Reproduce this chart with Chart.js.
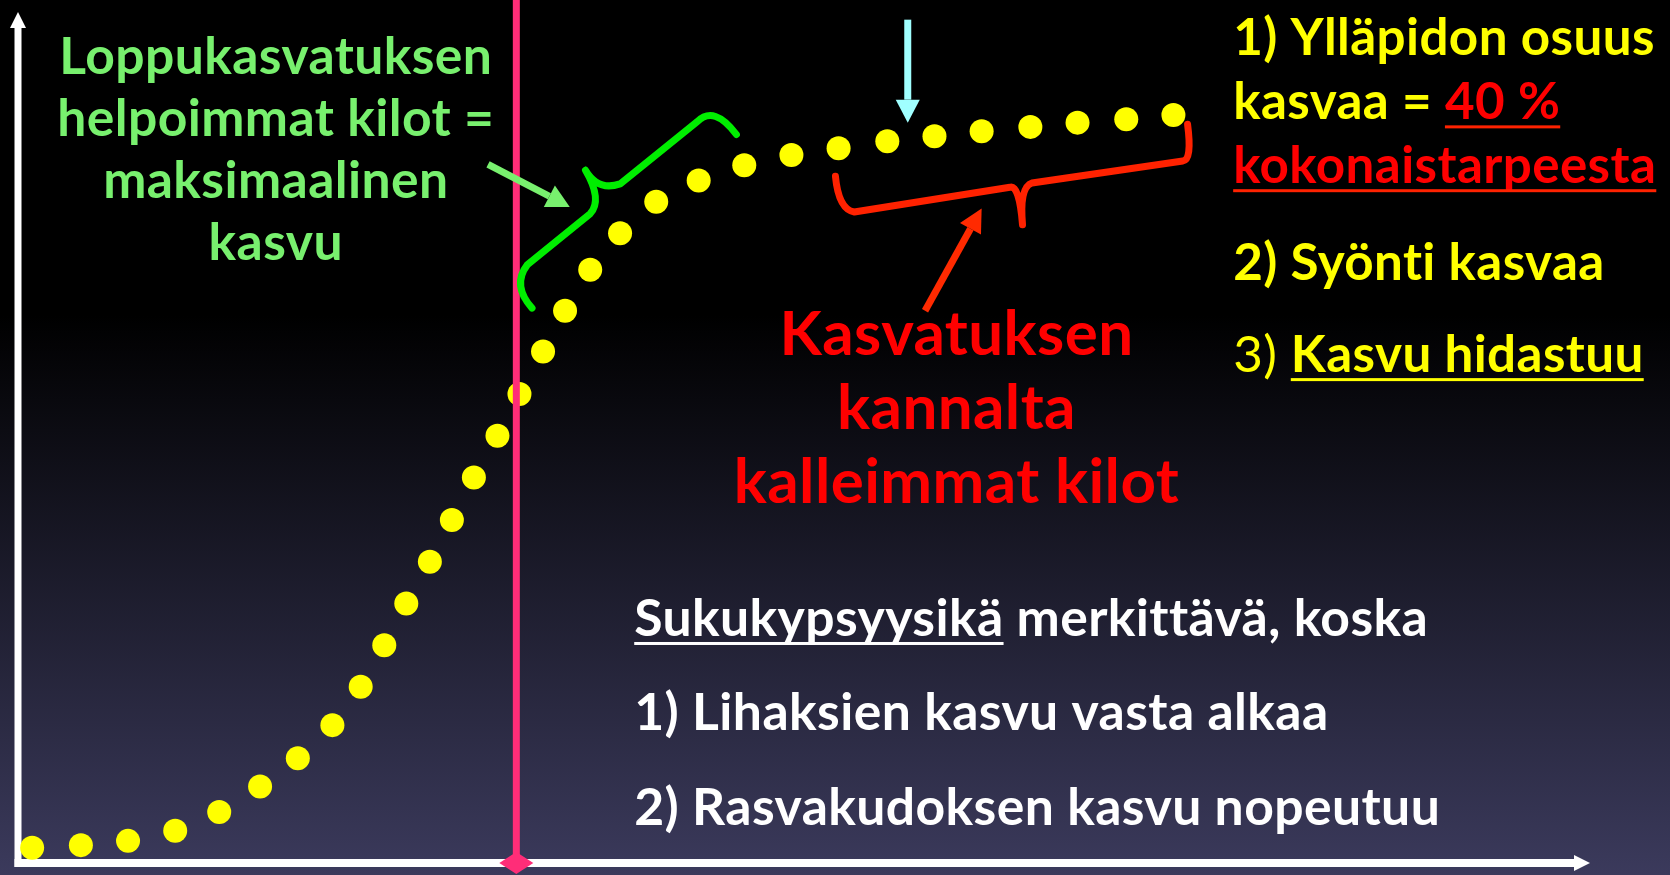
<!DOCTYPE html>
<html>

<head>
    <title>Kasvukäyrä</title>
    <script src="https://cdn.jsdelivr.net/npm/chart.js"></script>
    <style>
        html, body {
            margin: 0;
            padding: 0;
            background: #000;
            overflow: hidden;
        }

        canvas {
            display: block;
        }
    </style>
</head>

<body>
    <canvas id="growthChart" width="1670" height="875"></canvas>

    <script>
        // growth curve: age (x) and live weight (y), both on a 0-100 relative scale
        const ageValues = [0.9, 4.0, 7.0, 10.0, 12.8, 15.4, 17.8, 20.0, 21.8, 23.3, 24.7, 26.2, 27.6, 29.0, 30.5, 31.9,
            33.4, 34.8, 36.4, 38.3, 40.6, 43.3, 46.2, 49.2, 52.2, 55.3, 58.3, 61.3, 64.4, 67.4, 70.5, 73.5];
        const weightValues = [1.8, 2.1, 2.6, 3.8, 6.0, 9.0, 12.3, 16.2, 20.7, 25.6, 30.5, 35.4, 40.3, 45.3, 50.2, 55.1,
            60.1, 64.9, 69.7, 74.0, 77.7, 80.2, 82.0, 83.2, 84.0, 84.8, 85.4, 86.0, 86.5, 87.0, 87.4, 87.9];
        const maturityAge = 31.7;   // sukukypsyysikä (pink line)

        // texts
        const greenLines = ["Loppukasvatuksen", "helpoimmat kilot =", "maksimaalinen", "kasvu"];
        const redLines = ["Kasvatuksen", "kannalta", "kalleimmat kilot"];

        const YELLOW = "#ffff00";
        const RED = "#ff0000";
        const WHITE = "#ffffff";

        const yellowLines = [
            [{ t: "1) Ylläpidon osuus", c: YELLOW }],
            [{ t: "kasvaa = ", c: YELLOW }, { t: "40 %", c: RED, u: "#ff2200" }],
            [{ t: "kokonaistarpeesta", c: RED, u: "#ff2200" }],
            [{ t: "2) Syönti kasvaa", c: YELLOW }],
            [{ t: "3) ", c: YELLOW, w: 400 }, { t: "Kasvu hidastuu", c: YELLOW, u: YELLOW }]
        ];
        const whiteLines = [
            [{ t: "Sukukypsyysikä", c: WHITE, u: WHITE }, { t: " merkittävä, koska", c: WHITE }],
            [{ t: "1) Lihaksien kasvu vasta alkaa", c: WHITE }],
            [{ t: "2) Rasvakudoksen kasvu nopeutuu", c: WHITE }]
        ];

        // braces and arrows, in chart units
        const greenBrace = [["M", 32.7, 65.2], ["Q", 31.4, 67.9, 32.4, 70.3], ["L", 36.4, 76.3], ["Q", 37.2, 77.9, 36.1, 81.4],
            ["M", 36.1, 81.4], ["Q", 36.9, 78.9, 38.3, 79.8], ["L", 43.2, 87.1], ["Q", 44.3, 89.1, 45.7, 85.6]];
        const redBrace = [["M", 52.0, 80.7], ["Q", 52.2, 76.8, 53.2, 76.5], ["L", 63.1, 79.4], ["Q", 63.7, 79.7, 63.9, 75.0],
            ["M", 63.9, 75.0], ["Q", 63.7, 79.4, 64.5, 79.9], ["L", 74.1, 82.5], ["Q", 74.7, 82.6, 74.4, 86.8]];
        const arrows = [
            { from: [56.6, 99.1], to: [56.6, 87.0], color: "#a0ffff" },
            { from: [29.9, 82.1], to: [35.1, 77.1], color: "#78f06e" },
            { from: [57.7, 64.9], to: [61.3, 76.9], color: "#ff2a00" }
        ];

        const FONT = "Lato, 'Open Sans', sans-serif";

        function setFont(ctx, weight, size) {
            ctx.font = `${weight} ${size}px ${FONT}`;
            // a tiny letter spacing keeps Lato from using its "ti" ligature
            if ("letterSpacing" in ctx) ctx.letterSpacing = "0.4px";
        }

        function fitSize(ctx, text, weight, target) {
            setFont(ctx, weight, 100);
            return 100 * target / ctx.measureText(text).width;
        }

        function drawArrow(ctx, x1, y1, x2, y2, color) {
            const ang = Math.atan2(y2 - y1, x2 - x1);
            const head = 23, half = 12;
            const bx = x2 - head * Math.cos(ang), by = y2 - head * Math.sin(ang);
            ctx.strokeStyle = color;
            ctx.fillStyle = color;
            ctx.lineWidth = 7;
            ctx.lineCap = "butt";
            ctx.beginPath();
            ctx.moveTo(x1, y1);
            ctx.lineTo(bx, by);
            ctx.stroke();
            ctx.beginPath();
            ctx.moveTo(x2, y2);
            ctx.lineTo(bx + half * Math.sin(ang), by - half * Math.cos(ang));
            ctx.lineTo(bx - half * Math.sin(ang), by + half * Math.cos(ang));
            ctx.closePath();
            ctx.fill();
        }

        function drawRich(ctx, segs, x, y, size, align) {
            let total = 0;
            segs.forEach(s => {
                setFont(ctx, s.w || 700, size);
                s.width = ctx.measureText(s.t).width;
                total += s.width;
            });
            let cx = align === "center" ? x - total / 2 : x;
            segs.forEach(s => {
                setFont(ctx, s.w || 700, size);
                ctx.fillStyle = s.c;
                ctx.textAlign = "left";
                ctx.textBaseline = "alphabetic";
                ctx.fillText(s.t, cx, y);
                if (s.u) {
                    const lead = ctx.measureText(s.t.match(/^\s*/)[0]).width;
                    const trail = ctx.measureText(s.t.match(/\s*$/)[0]).width;
                    ctx.fillStyle = s.u;
                    ctx.fillRect(cx + lead, y + size * 0.12, s.width - lead - trail, 3);
                }
                cx += s.width;
            });
        }

        const backgroundPlugin = {
            id: "slideBackground",
            beforeDraw(chart) {
                const ctx = chart.ctx;
                const g = ctx.createLinearGradient(0, 0, 0, chart.height);
                g.addColorStop(0, "#000000");
                g.addColorStop(0.36, "#000000");
                g.addColorStop(1, "#3b3a5c");
                ctx.save();
                ctx.fillStyle = g;
                ctx.fillRect(0, 0, chart.width, chart.height);
                ctx.restore();
            },
            beforeDatasetsDraw(chart) {
                // white axes with small arrow heads
                const { ctx, chartArea: a } = chart;
                ctx.save();
                ctx.fillStyle = "#ffffff";
                ctx.fillRect(a.left - 3.5, a.top + 15, 7, a.bottom - a.top - 11);
                ctx.beginPath();
                ctx.moveTo(a.left, a.top);
                ctx.lineTo(a.left - 8, a.top + 16);
                ctx.lineTo(a.left + 8, a.top + 16);
                ctx.fill();
                ctx.fillRect(a.left - 3.5, a.bottom - 4, a.right - a.left - 11, 8);
                ctx.beginPath();
                ctx.moveTo(a.right, a.bottom);
                ctx.lineTo(a.right - 16, a.bottom - 8);
                ctx.lineTo(a.right - 16, a.bottom + 8);
                ctx.fill();
                ctx.restore();
            }
        };

        const annotationPlugin = {
            id: "slideAnnotations",
            afterDatasetsDraw(chart) {
                const { ctx, chartArea: a, scales: { x, y } } = chart;
                const px = v => x.getPixelForValue(v);
                const py = v => y.getPixelForValue(v);
                ctx.save();

                // maturity line with diamond end
                const mx = px(maturityAge);
                ctx.fillStyle = "#ff2d78";
                ctx.fillRect(mx - 3.5, 0, 7, a.bottom);
                ctx.beginPath();
                ctx.moveTo(mx, a.bottom - 11);
                ctx.lineTo(mx + 17, a.bottom);
                ctx.lineTo(mx, a.bottom + 11);
                ctx.lineTo(mx - 17, a.bottom);
                ctx.closePath();
                ctx.fill();

                // braces
                const brace = (cmds, color) => {
                    ctx.strokeStyle = color;
                    ctx.lineWidth = 7;
                    ctx.lineCap = "round";
                    ctx.lineJoin = "round";
                    ctx.beginPath();
                    cmds.forEach(c => {
                        if (c[0] === "M") ctx.moveTo(px(c[1]), py(c[2]));
                        else if (c[0] === "L") ctx.lineTo(px(c[1]), py(c[2]));
                        else ctx.quadraticCurveTo(px(c[1]), py(c[2]), px(c[3]), py(c[4]));
                    });
                    ctx.stroke();
                };
                brace(greenBrace, "#00ee00");
                brace(redBrace, "#ff2200");

                arrows.forEach(ar => drawArrow(ctx, px(ar.from[0]), py(ar.from[1]), px(ar.to[0]), py(ar.to[1]), ar.color));

                // text blocks
                const gSize = fitSize(ctx, greenLines[0], 700, 430);
                greenLines.forEach((t, i) => drawRich(ctx, [{ t, c: "#78f06e" }], px(16.4), py(92.7 - i * 7.3), gSize, "center"));

                const rSize = fitSize(ctx, redLines[2], 700, 443);
                redLines.forEach((t, i) => drawRich(ctx, [{ t, c: RED }], px(59.7), py(59.7 - i * 8.7), rSize, "center"));

                const ySize = fitSize(ctx, "kokonaistarpeesta", 700, 420);
                const yBase = [94.9, 87.4, 79.9, 68.5, 57.7];
                yellowLines.forEach((segs, i) => drawRich(ctx, segs, px(77.3), py(yBase[i]), ySize, "left"));

                const wSize = fitSize(ctx, "Sukukypsyysikä merkittävä, koska", 700, 788);
                const wBase = [26.7, 15.6, 4.5];
                whiteLines.forEach((segs, i) => drawRich(ctx, segs, px(39.2), py(wBase[i]), wSize, "left"));

                ctx.restore();
            }
        };

        const points = ageValues.map((a, i) => ({ x: a, y: weightValues[i] }));

        new Chart(document.getElementById("growthChart").getContext("2d"), {
            type: "scatter",
            data: {
                datasets: [{
                    label: "Paino",
                    data: points,
                    pointRadius: 12,
                    pointHoverRadius: 12,
                    pointBackgroundColor: YELLOW,
                    pointBorderWidth: 0,
                    showLine: false,
                    clip: false
                }]
            },
            options: {
                responsive: false,
                animation: false,
                events: [],
                layout: { padding: { left: 18, right: 80, top: 6, bottom: 8 } },
                scales: {
                    x: { type: "linear", min: 0, max: 100, display: false },
                    y: { type: "linear", min: 0, max: 100, display: false }
                },
                plugins: {
                    legend: { display: false },
                    tooltip: { enabled: false }
                }
            },
            plugins: [backgroundPlugin, annotationPlugin]
        });
    </script>
</body>

</html>
